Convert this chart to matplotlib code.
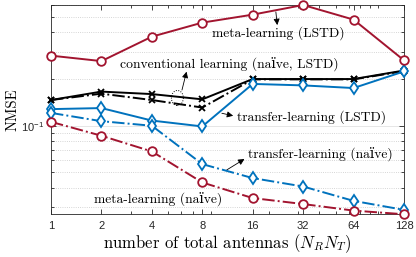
import matplotlib
matplotlib.use("Agg")
import matplotlib.pyplot as plt
from matplotlib.patches import Ellipse
from matplotlib.ticker import FixedLocator, NullFormatter, LogLocator

plt.rcParams["mathtext.fontset"] = "cm"
plt.rcParams["axes.formatter.use_mathtext"] = True

SERIF = ["cmr10", "DejaVu Serif"]
SANS = ["Liberation Sans", "DejaVu Sans"]

RED = "#A2142F"
BLUE = "#0072BD"

antennas = [1, 2, 4, 8, 16, 32, 64, 128]
xtick_labels = ["1", "2", "4", "8", "16", "32", "64", "128"]

meta_lstd = [0.283, 0.261, 0.375, 0.462, 0.520, 0.600, 0.483, 0.264]
meta_naive = [0.106, 0.0862, 0.0683, 0.0431, 0.0342, 0.0313, 0.0284, 0.0269]
conv_lstd = [0.1465, 0.166, 0.160, 0.148, 0.200, 0.200, 0.200, 0.227]
conv_naive = [0.1465, 0.161, 0.1465, 0.131, 0.199, 0.199, 0.199, 0.225]
transfer_lstd = [0.128, 0.130, 0.108, 0.099, 0.186, 0.182, 0.175, 0.224]
transfer_naive = [0.121, 0.107, 0.100, 0.0566, 0.046, 0.0406, 0.0328, 0.0287]

fig = plt.figure(figsize=(4.16, 2.57), dpi=100)
ax = fig.add_axes([51 / 416, 43 / 257, 353 / 416, 209 / 257])

mk = dict(markerfacecolor="white", markeredgewidth=1.3, clip_on=False, lw=1.4)
ax.plot(antennas, meta_lstd, "-o", color=RED, ms=6.2, zorder=5, **mk)
ax.plot(antennas, conv_lstd, "-x", color="black", ms=4.5, zorder=4, **mk)
ax.plot(antennas, conv_naive, "-.x", color="black", ms=4.5, zorder=4, **mk)
ax.plot(antennas, transfer_lstd, "-d", color=BLUE, ms=6.2, zorder=4, **mk)
ax.plot(antennas, transfer_naive, "-.d", color=BLUE, ms=6.2, zorder=4, **mk)
ax.plot(antennas, meta_naive, "-.o", color=RED, ms=6.2, zorder=5, **mk)

ax.set_xscale("log")
ax.set_yscale("log")
ax.set_xlim(1, 128)
ax.set_ylim(0.027, 0.6)
ax.xaxis.set_major_locator(FixedLocator(antennas))
ax.set_xticklabels(xtick_labels, family=SANS, fontsize=8)
ax.xaxis.set_minor_locator(LogLocator(base=10, subs=range(2, 10), numticks=20))
ax.xaxis.set_minor_formatter(NullFormatter())
ax.yaxis.set_major_locator(FixedLocator([0.1]))
ax.yaxis.set_minor_locator(LogLocator(base=10, subs=range(2, 10), numticks=20))
ax.yaxis.set_minor_formatter(NullFormatter())
ax.set_yticklabels([r"$\mathdefault{10^{-1}}$"], fontsize=8)
for lab in ax.get_yticklabels():
    lab.set_family(SANS)

ax.tick_params(which="both", direction="in", top=True, right=True,
               color="#262626", width=0.6, labelcolor="#262626", pad=5)
ax.tick_params(which="major", length=3.5)
ax.tick_params(which="minor", length=2)
ax.grid(True, axis="y", which="minor", ls=":", color="#c8c8c8", lw=0.6)
ax.grid(True, axis="y", which="major", ls="-", color="#e2e2e2", lw=0.6)
ax.set_axisbelow(True)
for s in ax.spines.values():
    s.set_color("#262626")
    s.set_linewidth(0.6)

ax.set_xlabel(r"number of total antennas $(N_R N_T)$", family=SERIF, fontsize=12, labelpad=1)
ax.set_ylabel("NMSE", family=SERIF, fontsize=10.5, labelpad=1)

tfs = 9.8
tr = ax.transAxes
ax.text(0.643, 0.866, "meta-learning (LSTD)", transform=tr, ha="center", va="center",
        family=SERIF, fontsize=tfs)
ax.text(0.504, 0.718, "conventional learning (na\u00efve, LSTD)", transform=tr, ha="center",
        va="center", family=SERIF, fontsize=tfs)
ax.text(0.526, 0.462, "transfer-learning (LSTD)", transform=tr, ha="left", va="center",
        family=SERIF, fontsize=tfs)
ax.text(0.558, 0.290, "transfer-learning (na\u00efve)", transform=tr, ha="left", va="center",
        family=SERIF, fontsize=tfs)
ax.text(0.122, 0.075, "meta-learning (na\u00efve)", transform=tr, ha="left", va="center",
        family=SERIF, fontsize=tfs)

arrows = [
    ((0.641, 0.904), (0.637, 0.967)),
    ((0.384, 0.681), (0.371, 0.593)),
    ((0.516, 0.470), (0.484, 0.482)),
    ((0.548, 0.263), (0.498, 0.211)),
]
for head, tail in arrows:
    ax.annotate("", xy=head, xytext=tail, xycoords=tr, textcoords=tr,
                arrowprops=dict(arrowstyle="-|>", color="black", lw=0.6,
                                mutation_scale=9, shrinkA=0, shrinkB=0))
ax.add_patch(Ellipse((0.358, 0.555), 0.034, 0.072, transform=tr, fill=False,
                     ls=(0, (1, 1.5)), lw=0.7, color="black", zorder=6))

fig.savefig("out.png", dpi=100)
